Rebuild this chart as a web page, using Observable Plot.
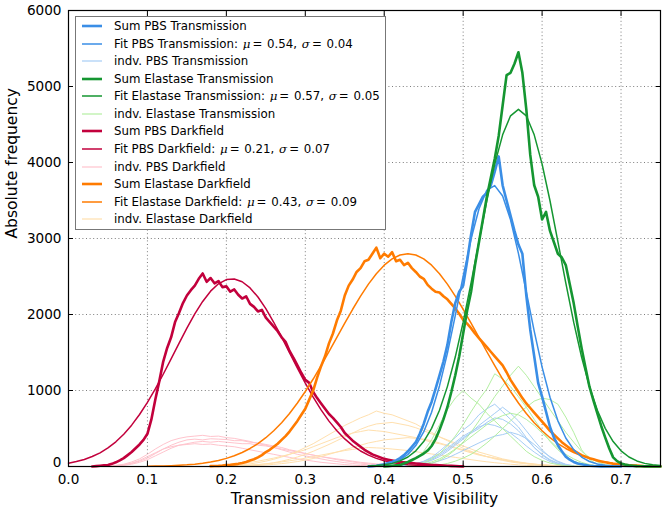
<!DOCTYPE html>
<html><head><meta charset="utf-8">
<script src="https://cdn.jsdelivr.net/npm/d3@7"></script>
<script src="https://cdn.jsdelivr.net/npm/@observablehq/plot@0.6"></script>
<style>
body{margin:0;background:#fff;font-family:"DejaVu Sans",sans-serif;}
#wrap{position:relative;width:666px;height:514px;}
#legend{position:absolute;left:75px;top:16px;width:311px;height:214px;box-sizing:border-box;border:1px solid #777;background:#fff;font-size:11.8px;color:#000;}
.row{position:absolute;left:0;height:18px;display:flex;align-items:center;white-space:nowrap;}
.row svg{margin-left:6px;margin-right:12px;}
.row i{font-family:"DejaVu Serif";font-style:italic;padding:0 1px;}
.row .eq{padding:0 1px;}
</style></head><body><div id="wrap"></div>
<script>
// ---- axes ----
const xTicks = [0.0, 0.1, 0.2, 0.3, 0.4, 0.5, 0.6, 0.7];
const yTicks = [0, 1000, 2000, 3000, 4000, 5000, 6000];
const xLabel = "Transmission and relative Visibility";
const yLabel = "Absolute frequency";

// ---- groups ----
const groups = ["PBS Transmission", "Elastase Transmission", "PBS Darkfield", "Elastase Darkfield"];
const sumColors = ["#3a8ee6", "#159631", "#c2003c", "#ff7b00"];
const indvColors = ["#a6cdf5", "#b4efa2", "#ffc4cd", "#ffe0ae"];
const fitMu = [0.54, 0.57, 0.21, 0.43];
const fitSigma = [0.04, 0.05, 0.07, 0.09];

// ---- summed histograms (bin width 0.005) ----
const sumStep = 0.005;
const sumPbsTransStart = 0.38;
const sumPbsTrans = [0,5,10,20,30,45,60,80,110,150,200,260,320,430,560,720,850,1020,1200,1380,1600,1900,2150,2300,2380,2700,3050,3350,3450,3550,3600,3700,3880,4080,3700,3500,3300,3100,2920,2800,2250,1800,1450,1100,920,720,520,380,280,200,130,90,60,40,30,20,10,6,4,2,0,0,0,0,0];
const sumElaTransStart = 0.40;
const sumElaTrans = [0,5,10,15,20,40,60,85,110,140,170,210,270,360,480,620,780,980,1200,1450,1750,2050,2300,2650,2950,3250,3550,3800,4050,4350,4750,5150,5180,5300,5450,5180,4700,4100,3700,3550,3250,3350,3100,2950,2800,2750,2650,2400,2150,1850,1560,1300,1050,870,700,530,380,240,120,70,40,25,15,10,5,3,2,1,0,0,0];
const sumPbsDarkStart = 0.03;
const sumPbsDark = [0,5,10,15,20,35,55,80,110,150,190,240,290,350,430,620,880,1120,1380,1560,1700,1900,2020,2150,2250,2320,2380,2470,2540,2430,2480,2410,2440,2360,2370,2300,2330,2260,2210,2240,2140,2100,2040,2060,1960,1900,1840,1780,1700,1640,1520,1430,1330,1230,1140,1100,980,900,830,760,690,640,580,520,440,390,340,300,260,220,190,160,140,120,100,90,80,70,60,55,50,45,40,35,30,25,20,18,15,12,10,8,6,4,2];
const sumElaDarkStart = 0.18;
const sumElaDark = [5,6,8,12,18,22,28,35,45,60,80,95,120,150,190,220,260,300,350,400,460,530,600,680,760,880,1000,1170,1320,1450,1620,1750,1920,2050,2250,2380,2460,2560,2610,2700,2720,2800,2880,2740,2800,2760,2820,2700,2720,2650,2680,2610,2560,2500,2470,2390,2340,2300,2290,2240,2200,2140,2080,2010,1930,1880,1820,1750,1690,1630,1570,1510,1450,1390,1330,1240,1140,1060,980,900,830,770,710,650,590,530,470,420,370,320,280,240,210,180,150,130,110,95,80,65,55,45,35,28,20,16,12,10,8,6,4,3,2,1,0];

// ---- Gaussian fits (read at 0.01 steps) ----
const fitStep = 0.01;
const fitPbsTransStart = 0.38;
const fitPbsTrans = [4,10,21,44,86,158,276,455,714,1060,1489,1984,2503,2993,3389,3636,3696,3559,3246,2805,2296,1782,1308,911,601,375,222,124,66,33,16,7,3,1,0];
const fitElaTransStart = 0.38;
const fitElaTrans = [6,12,22,41,73,125,206,328,502,740,1051,1440,1899,2415,2959,3497,3979,4364,4614,4700,4614,4364,3979,3497,2959,2415,1899,1440,1051,740,502,328,206,125,73,41,22,12];
const fitPbsDarkStart = 0.00;
const fitPbsDark = [44,65,93,131,180,245,325,425,544,684,844,1021,1214,1416,1621,1821,2007,2172,2307,2404,2459,2468,2431,2350,2230,2077,1898,1702,1498,1294,1097,913,745,597,470,363,275,204,149,107,75,52,35,23,15,10,6,4,2,1,1];
const fitElaDarkStart = 0.10;
const fitElaDark = [3,5,7,11,16,22,31,43,59,80,107,141,184,237,302,379,470,577,698,835,987,1151,1327,1510,1698,1887,2069,2242,2400,2537,2649,2732,2783,2800,2783,2732,2649,2537,2400,2242,2069,1887,1698,1510,1327,1151,987,835,698,577,470,379,302,237,184,141,107,80,59,43,31,22,16,11,7,5];

// ---- individual histograms (0.01 steps) ----
const indvStep = 0.01;
const indvPbsTransStart = 0.42;
const indvPbsTrans = [
  [5,15,35,70,120,200,290,380,480,560,680,760,820,720,620,520,380,250,150,80,40,15,5],
  [2,8,20,45,80,130,200,280,360,450,540,620,700,780,700,600,470,340,220,120,60,25,8],
  [3,10,25,50,90,150,220,300,380,440,500,580,640,620,560,470,360,250,160,90,45,18,5],
  [5,15,35,65,110,170,240,320,400,460,520,560,540,500,440,360,270,190,120,65,30,12,4],
  [2,5,12,25,45,75,110,160,210,260,310,360,400,420,450,420,370,290,200,130,70,30,10]
];
const indvElaTransStart = 0.43;
const indvElaTrans = [
  [40,100,200,350,550,750,900,1000,900,820,700,600,500,400,300,200,130,80,45,25,12,5,2,0,0,0,0],
  [10,25,50,100,170,270,400,550,720,880,1020,1220,1150,1050,920,780,620,470,330,220,130,70,35,15,5,2,0],
  [5,10,20,40,80,140,220,320,450,600,760,920,1060,1200,1320,1200,1050,900,750,600,450,320,200,120,60,25,10],
  [0,2,5,10,20,40,70,110,160,230,310,400,500,600,700,780,860,900,880,820,650,450,220,90,30,10,0],
  [5,15,30,60,100,160,230,310,390,470,550,620,670,700,680,620,540,440,340,240,160,100,55,25,10,3,0]
];
const indvPbsDarkStart = 0.05;
const indvPbsDark = [
  [5,15,30,60,100,160,230,290,340,370,390,400,410,395,400,380,370,350,330,300,280,250,220,190,160,140,120,100,80,65,50,40,30,22,15,10,8,5,3,2,0],
  [3,10,20,40,70,110,170,230,280,320,350,360,350,365,360,355,340,340,320,310,290,270,250,220,200,170,150,130,110,90,75,60,45,35,25,18,12,8,5,3,0],
  [2,6,15,30,55,90,140,190,240,280,300,320,330,320,330,320,310,300,300,280,270,250,230,210,190,170,150,130,115,100,85,70,55,45,35,25,18,12,8,5,2],
  [5,12,25,45,80,130,180,230,260,280,290,300,290,295,280,270,260,240,220,200,180,160,140,120,100,85,70,55,45,35,25,18,12,8,5,3,2,1,0,0,0]
];
const indvElaDarkStart = 0.20;
const indvElaDark = [
  [10,15,25,35,50,70,95,125,160,200,250,300,360,420,480,540,590,640,680,730,700,680,640,600,560,500,450,390,340,290,240,200,160,130,100,80,60,45,35,25,18,12,8,5,3,0],
  [5,8,12,18,25,35,50,70,95,125,160,200,245,290,340,390,440,490,530,560,570,580,560,540,510,470,430,390,350,310,270,230,190,160,130,100,80,60,45,32,22,15,10,6,3,0],
  [20,30,40,55,70,90,110,135,160,190,220,260,300,340,380,410,440,460,480,470,460,440,420,400,380,350,320,300,270,240,210,180,150,130,110,90,70,55,40,30,20,15,10,5,3,0],
  [2,4,6,10,14,20,28,38,50,65,85,105,130,160,190,220,250,280,310,330,350,360,370,380,370,360,340,310,280,250,220,190,160,130,110,90,70,55,40,30,22,15,10,6,3,0],
  [5,8,12,18,25,35,45,60,75,90,110,130,150,170,190,210,225,240,250,245,240,230,220,210,195,180,165,150,135,120,105,90,75,62,50,40,30,22,15,10,7,5,3,2,1,0]
];

// ---- build tables ----
function toRows(id, x0, step, vals) {
  return vals.map((v, i) => ({id, x: +(x0 + i * step).toFixed(3), y: v}));
}
const sums = [
  toRows("s0", sumPbsTransStart, sumStep, sumPbsTrans),
  toRows("s1", sumElaTransStart, sumStep, sumElaTrans),
  toRows("s2", sumPbsDarkStart, sumStep, sumPbsDark),
  toRows("s3", sumElaDarkStart, sumStep, sumElaDark)
];
const fits = [
  toRows("f0", fitPbsTransStart, fitStep, fitPbsTrans),
  toRows("f1", fitElaTransStart, fitStep, fitElaTrans),
  toRows("f2", fitPbsDarkStart, fitStep, fitPbsDark),
  toRows("f3", fitElaDarkStart, fitStep, fitElaDark)
];
const indvSets = [
  [indvPbsTrans, indvPbsTransStart],
  [indvElaTrans, indvElaTransStart],
  [indvPbsDark, indvPbsDarkStart],
  [indvElaDark, indvElaDarkStart]
];
const indv = indvSets.map(([arrs, x0], g) => arrs.flatMap((a, j) => toRows(`i${g}_${j}`, x0, indvStep, a)));

const marks = [
  Plot.gridX(xTicks, {stroke: "#333", strokeOpacity: 0.8, strokeWidth: 0.8, strokeDasharray: "1,2.6"}),
  Plot.gridY(yTicks, {stroke: "#333", strokeOpacity: 0.8, strokeWidth: 0.8, strokeDasharray: "1,2.6"})
];
// draw order: darkfield below transmission
[2, 3, 0, 1].forEach(g => {
  marks.push(Plot.line(indv[g], {x: "x", y: "y", z: "id", stroke: indvColors[g], strokeWidth: 1}));
});
[2, 3, 0, 1].forEach(g => {
  marks.push(Plot.line(fits[g], {x: "x", y: "y", stroke: sumColors[g], strokeWidth: 1.5}));
  marks.push(Plot.line(sums[g], {x: "x", y: "y", stroke: sumColors[g], strokeWidth: 2.6}));
});
marks.push(
  Plot.frame({stroke: "#000", strokeWidth: 1.2}),
  Plot.axisX(xTicks, {anchor: "bottom", tickSize: 0, tickPadding: 8, fontSize: 13.6, tickFormat: d3.format(".1f"), label: null}),
  Plot.axisY(yTicks.slice(1), {anchor: "left", tickSize: 0, tickPadding: 7, fontSize: 13.6, tickFormat: d => String(d), label: null}),
  Plot.axisY([yTicks[0]], {anchor: "left", tickSize: 0, tickPadding: 7, dy: -4, fontSize: 13.6, tickFormat: d => String(d), label: null}),
  Plot.axisX(xTicks, {anchor: "bottom", tickSize: -5, tickFormat: () => "", label: null}),
  Plot.axisX(xTicks, {anchor: "top", tickSize: -5, tickFormat: () => "", label: null}),
  Plot.axisY(yTicks, {anchor: "left", tickSize: -5, tickFormat: () => "", label: null}),
  Plot.axisY(yTicks, {anchor: "right", tickSize: -5, tickFormat: () => "", label: null}),
  Plot.text([xLabel], {frameAnchor: "bottom", dy: 37, fontSize: 15.5, text: d => d}),
  Plot.text([yLabel], {frameAnchor: "left", dx: -56, rotate: -90, fontSize: 15.5, text: d => d})
);

const chart = Plot.plot({
  width: 666, height: 514,
  marginLeft: 68, marginRight: 6, marginTop: 10, marginBottom: 48,
  style: {fontFamily: "DejaVu Sans", background: "white", color: "black", overflow: "visible"},
  x: {domain: [0, 0.75]},
  y: {domain: [0, 6000]},
  marks
});
const wrap = document.getElementById("wrap");
wrap.appendChild(chart);

// ---- legend ----
const legend = document.createElement("div");
legend.id = "legend";
const items = [];
groups.forEach((g, k) => {
  items.push({html: `Sum ${g}`, color: sumColors[k], w: 2.6});
  items.push({html: `Fit ${g}: <i>μ</i><span class="eq">=</span> ${fitMu[k].toFixed(2)}, <i>σ</i><span class="eq">=</span> ${fitSigma[k].toFixed(2)}`, color: sumColors[k], w: 1.5});
  items.push({html: `indv. ${g}`, color: indvColors[k], w: 1.2});
});
items.forEach((it, i) => {
  const row = document.createElement("div");
  row.className = "row";
  row.style.top = (10 + i * 17.57 - 9 - 1) + "px";
  row.innerHTML = `<svg width="20" height="6"><line x1="0" x2="20" y1="3" y2="3" stroke="${it.color}" stroke-width="${it.w}"/></svg><span>${it.html}</span>`;
  legend.appendChild(row);
});
wrap.appendChild(legend);
</script></body></html>
